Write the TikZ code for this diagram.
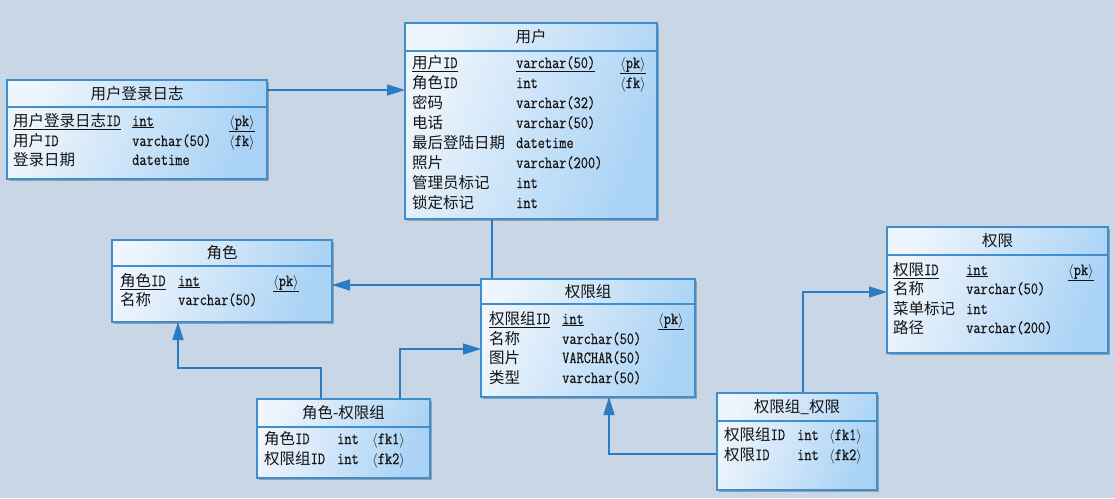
\documentclass[tikz,border=0pt]{standalone}
\usepackage{fontspec}
\setmainfont{Latin Modern Mono}[FakeStretch=0.82,FakeBold=0.5]
\newfontfamily\cjk{Noto Sans CJK SC}
\usetikzlibrary{arrows.meta,shadows}
\pgfdeclarelayer{bg}
\pgfsetlayers{bg,main}
\definecolor{bgc}{HTML}{C9D6E5}
\definecolor{boxc}{HTML}{3F8FCF}
\definecolor{linec}{HTML}{2A7DC2}
\definecolor{fillA}{HTML}{EEF5FC}
\definecolor{fillB}{HTML}{A9D2F5}
\definecolor{txt}{HTML}{141414}
\newcommand\zh[1]{{\cjk\fontsize{15.5}{17}\selectfont #1}}
\newcommand\ang[1]{{\fontsize{15}{17}\selectfont$\langle$}#1{\fontsize{15}{17}\selectfont$\rangle$}}
\newcommand\ertable[7]{%
  \node[tbl, minimum width={(#4-#2)*1pt}, minimum height={(#5-#3)*1pt}] (#1) at (#2,#3) {};
  \draw[sepline] (#2,#6) -- (#4,#6);
  \node[ttl] (#1-t) at ({(#2+#4)/2},{(#3+#6)/2}) {\zh{#7}};
}
\newcommand\cell[4]{\node[cell] (#1) at (#2,#3) {#4};}
\tikzset{
  tbl/.style={draw=boxc, line width=1.2pt, inner sep=0pt, outer sep=0pt, anchor=north west,
    left color=fillA, right color=fillB, shading angle=70,
    drop shadow={shadow xshift=1.5pt, shadow yshift=-1.5pt, fill=black, opacity=0.25}},
  sepline/.style={draw=boxc, line width=1.1pt},
  ttl/.style={inner sep=0pt, text=txt},
  cell/.style={anchor=base west, inner sep=0pt, text=txt},
  conn/.style={draw=linec, line width=1.4pt, -{Triangle[length=18pt,width=11pt]}},
}
\begin{document}
\begin{tikzpicture}[x=1pt,y=-1pt]
\fontsize{17}{19}\selectfont
\begin{pgfonlayer}{bg}
\fill[bgc] (0,0) rectangle (1115,498);
\end{pgfonlayer}
\useasboundingbox (0,0) rectangle (1115,498);

% 用户登录日志
\ertable{log}{7}{80}{267}{179}{107}{用户登录日志}
\cell{log-1a}{13}{126}{\underline{\zh{用户登录日志}ID}}
\cell{log-1b}{132}{126}{\underline{int}}
\cell{log-1c}{229}{126}{\underline{\ang{pk}}}
\cell{log-2a}{13}{146}{\zh{用户}ID}
\cell{log-2b}{132}{146}{varchar(50)}
\cell{log-2c}{229}{146}{\ang{fk}}
\cell{log-3a}{13}{165}{\zh{登录日期}}
\cell{log-3b}{132}{165}{datetime}

% 用户
\ertable{user}{405}{23}{657}{219}{51}{用户}
\cell{u-1a}{412}{68}{\underline{\zh{用户}ID}}
\cell{u-1b}{516}{68}{\underline{varchar(50)}}
\cell{u-1c}{620}{68}{\underline{\ang{pk}}}
\cell{u-2a}{412}{88}{\zh{角色}ID}
\cell{u-2b}{516}{88}{int}
\cell{u-2c}{620}{88}{\ang{fk}}
\cell{u-3a}{412}{108}{\zh{密码}}
\cell{u-3b}{516}{108}{varchar(32)}
\cell{u-4a}{412}{128}{\zh{电话}}
\cell{u-4b}{516}{128}{varchar(50)}
\cell{u-5a}{412}{148}{\zh{最后登陆日期}}
\cell{u-5b}{516}{148}{datetime}
\cell{u-6a}{412}{168}{\zh{照片}}
\cell{u-6b}{516}{168}{varchar(200)}
\cell{u-7a}{412}{188}{\zh{管理员标记}}
\cell{u-7b}{516}{188}{int}
\cell{u-8a}{412}{208}{\zh{锁定标记}}
\cell{u-8b}{516}{208}{int}

% 角色
\ertable{role}{112}{240}{332}{322}{266}{角色}
\cell{r-1a}{120}{286}{\underline{\zh{角色}ID}}
\cell{r-1b}{178}{286}{\underline{int}}
\cell{r-1c}{273}{286}{\underline{\ang{pk}}}
\cell{r-2a}{120}{305}{\zh{名称}}
\cell{r-2b}{178}{305}{varchar(50)}

% 权限组
\ertable{group}{481}{279}{695}{397}{304}{权限组}
\cell{g-1a}{489}{324}{\underline{\zh{权限组}ID}}
\cell{g-1b}{562}{324}{\underline{int}}
\cell{g-1c}{658}{324}{\underline{\ang{pk}}}
\cell{g-2a}{489}{344}{\zh{名称}}
\cell{g-2b}{562}{344}{varchar(50)}
\cell{g-3a}{489}{363}{\zh{图片}}
\cell{g-3b}{562}{363}{VARCHAR(50)}
\cell{g-4a}{489}{383}{\zh{类型}}
\cell{g-4b}{562}{383}{varchar(50)}

% 权限
\ertable{perm}{887}{227}{1108}{353}{255}{权限}
\cell{p-1a}{893}{275}{\underline{\zh{权限}ID}}
\cell{p-1b}{966}{275}{\underline{int}}
\cell{p-1c}{1068}{275}{\underline{\ang{pk}}}
\cell{p-2a}{893}{294}{\zh{名称}}
\cell{p-2b}{966}{294}{varchar(50)}
\cell{p-3a}{893}{314}{\zh{菜单标记}}
\cell{p-3b}{966}{314}{int}
\cell{p-4a}{893}{333}{\zh{路径}}
\cell{p-4b}{966}{333}{varchar(200)}

% 角色-权限组
\ertable{rg}{257}{399}{430}{478}{427}{角色-权限组}
\cell{rg-1a}{264}{444}{\zh{角色}ID}
\cell{rg-1b}{337}{444}{int}
\cell{rg-1c}{372}{444}{\ang{fk1}}
\cell{rg-2a}{264}{464}{\zh{权限组}ID}
\cell{rg-2b}{337}{464}{int}
\cell{rg-2c}{372}{464}{\ang{fk2}}

% 权限组_权限
\ertable{gp}{717}{393}{877}{490}{421}{权限组\_权限}
\cell{gp-1a}{724}{440}{\zh{权限组}ID}
\cell{gp-1b}{797}{440}{int}
\cell{gp-1c}{829}{440}{\ang{fk1}}
\cell{gp-2a}{724}{460}{\zh{权限}ID}
\cell{gp-2b}{797}{460}{int}
\cell{gp-2c}{829}{460}{\ang{fk2}}

% connectors
\coordinate (k1) at (0,90);
\coordinate (k2a) at (492,0);
\coordinate (k2b) at (492,285);
\coordinate (k3a) at (321,368);
\coordinate (k3b) at (178,368);
\coordinate (k4) at (400,349);
\coordinate (k5) at (609,454);
\coordinate (k6) at (803,292);
\begin{pgfonlayer}{bg}
\draw[conn] (log.east |- k1) -- (user.west |- k1);
\draw[conn] (user.south -| k2a) -- (k2b) -- (role.east |- k2b);
\draw[conn] (rg.north -| k3a) -- (k3a) -- (k3b) -- (role.south -| k3b);
\draw[conn] (rg.north -| k4) -- (k4) -- (group.west |- k4);
\draw[conn] (gp.west |- k5) -- (k5) -- (group.south -| k5);
\draw[conn] (gp.north -| k6) -- (k6) -- (perm.west |- k6);
\end{pgfonlayer}
\end{tikzpicture}
\end{document}
